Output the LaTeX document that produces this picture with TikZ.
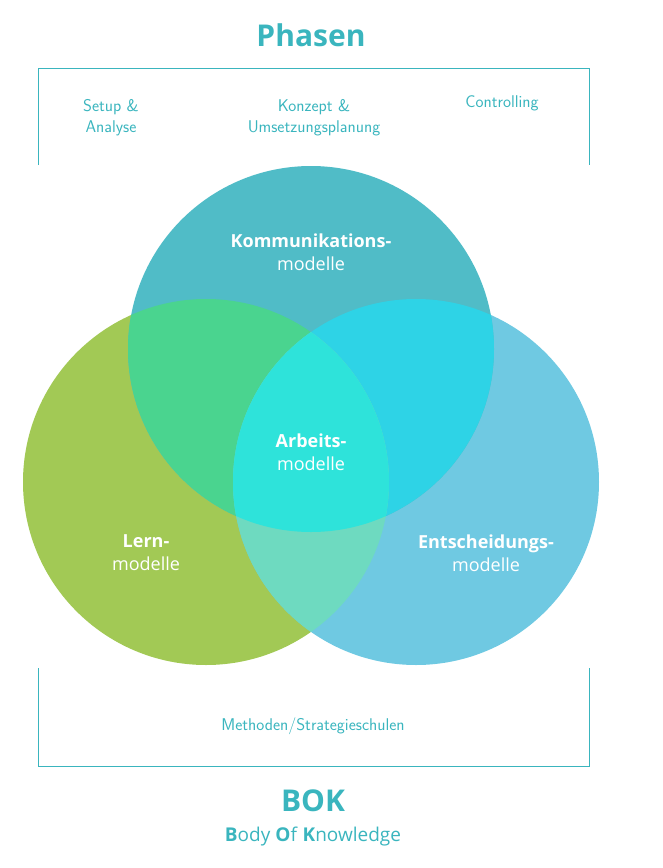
\documentclass[tikz,border=0pt]{standalone}
\usepackage{fontspec}
\setmainfont{Open Sans}
\definecolor{tealt}{HTML}{3AB5BE}
\definecolor{ctop}{HTML}{50BCC7}
\definecolor{cleft}{HTML}{A2C955}
\definecolor{cright}{HTML}{6FC9E2}
\definecolor{olt}{HTML}{4AD48F}
\definecolor{ort}{HTML}{2ED3E6}
\definecolor{olr}{HTML}{6EDAC0}
\definecolor{oall}{HTML}{2EE3DA}
\tikzset{frame/.style={draw=tealt,line width=0.8pt},
 lbl/.style={text=tealt,font=\fontsize{17}{21}\selectfont\sffamily,align=center},
 inl/.style={text=white,font=\fontsize{18}{23}\selectfont,align=center}}
\begin{document}
\begin{tikzpicture}[x=1pt,y=-1pt]
\useasboundingbox (0,0) rectangle (662,868);
\def\T{(311,349) circle (183)}
\def\L{(206,482) circle (183)}
\def\R{(416,482) circle (183)}
\fill[cleft] \L;
\fill[cright] \R;
\fill[ctop] \T;
\begin{scope}\clip \T; \fill[olt] \L; \fill[ort] \R; \end{scope}
\begin{scope}\clip \L; \fill[olr] \R; \clip \R; \fill[oall] \T; \end{scope}
\node[lbl,font=\fontsize{30}{34}\selectfont\bfseries] (ph) at (311,35) {Phasen};
\draw[frame] (38,165) -- (38,68) -- (589,68) -- (589,165);
\node[lbl] (s1) at (111,118) {Setup \&\\Analyse};
\node[lbl] (s2) at (314,118) {Konzept \&\\Umsetzungsplanung};
\node[lbl] (s3) at (502,103) {Controlling};
\node[inl] (k) at (311,252) {\textbf{Kommunikations-}\\modelle};
\node[inl] (a) at (311,452) {\textbf{Arbeits-}\\modelle};
\node[inl] (l) at (146,553) {\textbf{Lern-}\\modelle};
\node[inl] (e) at (486,553) {\textbf{Entscheidungs-}\\modelle};
\draw[frame] (38,668) -- (38,766) -- (589,766) -- (589,668);
\node[lbl] (m) at (313,726) {Methoden/Strategieschulen};
\node[lbl,font=\fontsize{30}{34}\selectfont\bfseries] (bok) at (313,801) {BOK};
\node[lbl,font=\fontsize{19}{22}\selectfont] (bk) at (313,837) {\textbf{B}ody \textbf{O}f \textbf{K}nowledge};
\end{tikzpicture}
\end{document}
